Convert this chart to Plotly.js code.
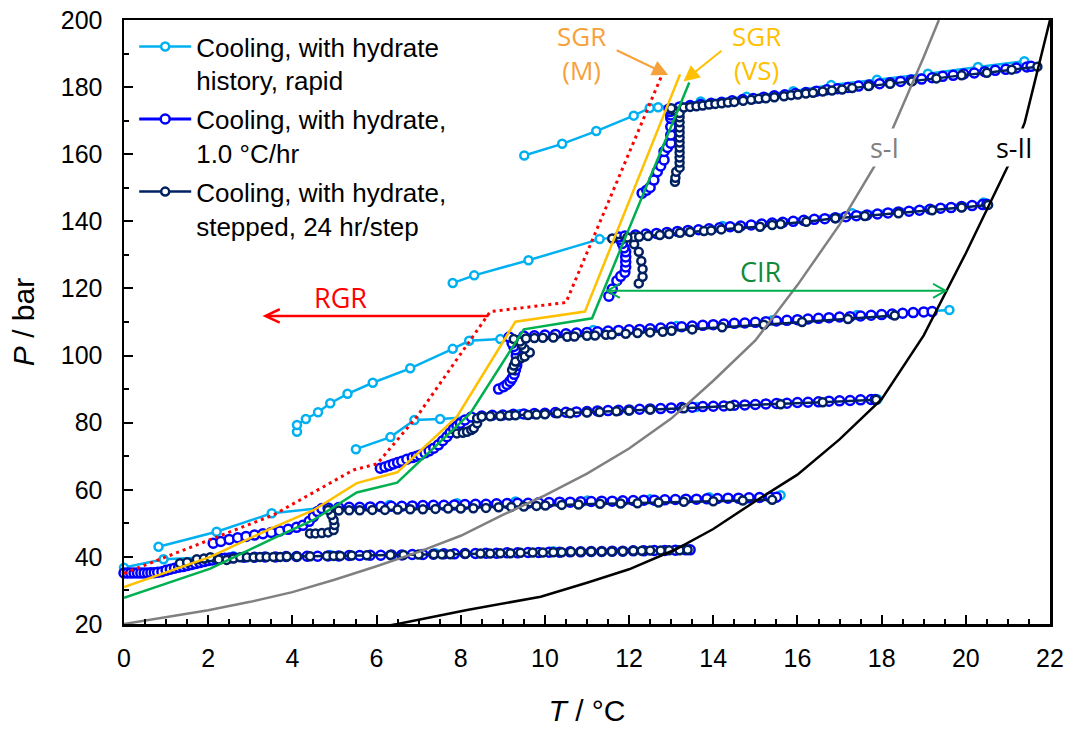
<!DOCTYPE html>
<html>
<head>
<meta charset="utf-8">
<script src="https://cdn.plot.ly/plotly-3.0.1.min.js"></script>
<style>
  html, body { margin: 0; padding: 0; background: #ffffff; }
  #chart { width: 1074px; height: 731px; }
</style>
</head>
<body>
<div id="chart"></div>
<script>
// ---------- Cooling, with hydrate history, rapid (T in °C, P in bar) ----------
const rapidT40  = [0, 0.94, 2.6, 4.9, 7.4, 10.2, 13.3];
const rapidP40  = [36.8, 39.3, 40.2, 40.6, 41.1, 41.7, 42.3];
const rapidT55  = [0.82, 2.20, 3.51, 4.80, 6.31, 7.91, 9.30, 11.01, 12.50, 13.90, 15.60];
const rapidP55  = [43.0, 47.5, 53.0, 54.7, 55.5, 56.0, 56.5, 56.8, 57.2, 57.8, 58.4];
const rapidT80  = [5.51, 6.33, 6.90, 7.51, 9.4, 11.5, 13.6, 15.56, 17.9];
const rapidP80  = [72.1, 75.7, 80.8, 81.1, 82.6, 83.6, 84.7, 85.7, 87.0];
const rapidT105 = [4.11, 4.11, 4.32, 4.61, 4.90, 5.31, 5.91, 6.80, 7.81, 8.20, 8.94, 11.15, 13.13, 15.40, 17.42, 19.61];
const rapidP105 = [77.3, 79.3, 81.1, 83.1, 85.8, 88.6, 91.9, 96.2, 102.0, 104.4, 104.9, 107.6, 108.8, 110.5, 112.1, 113.6];
const rapidT135 = [7.81, 8.32, 9.61, 11.30, 14.22, 17.30, 20.42];
const rapidP135 = [121.6, 123.9, 128.4, 134.7, 138.6, 142.4, 145.6];
const rapidT175 = [9.51, 10.41, 11.22, 12.11, 12.49, 12.69, 13.70, 14.79, 15.90, 16.80, 17.89, 19.10, 20.29, 21.39];
const rapidP175 = [159.6, 163.1, 166.9, 171.5, 173.8, 174.0, 175.7, 177.1, 178.8, 180.6, 182.2, 184.0, 186.0, 187.7];

// ---------- Cooling, with hydrate, 1.0 °C/hr ----------
const slowT40 = [0,0.08,0.16,0.24,0.32,0.4,0.48,0.56,0.64,0.72,0.8,0.9,1.0,1.1,1.2,1.3,1.4,1.5,1.6,1.7,1.8,1.9,2.0,2.1,2.2,2.3,2.4,2.5,2.6,
  2.85,3.1,3.35,3.6,3.85,4.1,4.35,4.6,4.85,5.1,5.35,5.6,5.85,6.1,6.35,6.6,6.85,7.1,7.35,7.6,7.85,8.1,8.35,8.6,8.85,9.1,9.35,9.6,9.85,
  10.1,10.35,10.6,10.85,11.1,11.35,11.6,11.85,12.1,12.35,12.6,12.85,13.1,13.35,13.45];
const slowP40 = [35.2,35.2,35.2,35.2,35.2,35.2,35.2,35.2,35.3,35.3,35.4,35.6,36.0,36.3,36.6,36.9,37.1,37.4,37.7,38.0,38.3,38.6,38.9,39.1,39.3,39.5,39.6,39.7,39.8,
  39.9,39.9,40.0,40.0,40.1,40.1,40.2,40.2,40.3,40.3,40.4,40.4,40.5,40.5,40.6,40.6,40.7,40.7,40.8,40.9,40.9,41.0,41.0,41.1,41.1,41.2,41.2,41.3,41.3,
  41.4,41.4,41.5,41.5,41.6,41.6,41.7,41.7,41.8,41.8,41.9,41.9,42.0,42.1,42.1];
const slowT55 = [2.12,2.3,2.5,2.7,2.9,3.1,3.3,3.5,3.7,3.9,4.1,4.25,4.4,4.5,4.6,4.7,
  4.85,5.1,5.35,5.6,5.85,6.1,6.35,6.6,6.85,7.1,7.35,7.6,7.85,8.1,8.35,8.6,8.85,9.1,9.35,9.6,9.85,10.1,10.35,10.6,10.85,
  11.1,11.35,11.6,11.85,12.1,12.35,12.6,12.85,13.1,13.35,13.6,13.85,14.1,14.35,14.6,14.85,15.1,15.35,15.5];
const slowP55 = [44.1,44.6,45.2,45.7,46.1,46.5,46.9,47.3,47.7,48.2,48.8,49.4,50.6,52.0,53.5,54.4,
  54.6,54.7,54.8,54.8,54.9,55.0,55.1,55.1,55.2,55.3,55.4,55.4,55.5,55.6,55.7,55.7,55.8,55.9,56.0,56.0,56.1,56.2,56.3,56.3,56.4,
  56.5,56.6,56.6,56.7,56.8,56.9,56.9,57.0,57.1,57.2,57.2,57.3,57.4,57.5,57.5,57.6,57.7,57.8,57.8];
const slowT80 = [6.09,6.2,6.3,6.4,6.5,6.6,6.72,6.85,6.95,7.04,7.15,7.25,7.36,7.47,7.57,7.67,7.75,7.83,7.91,7.99,8.1,8.25,
  8.5,8.75,9.0,9.25,9.5,9.75,10.0,10.25,10.5,10.75,11.0,11.25,11.5,11.75,12.0,12.25,12.5,12.75,13.0,13.25,13.5,13.75,
  14.0,14.25,14.5,14.75,15.0,15.25,15.5,15.75,16.0,16.25,16.5,16.75,17.0,17.25,17.5,17.75,17.85];
const slowP80 = [66.4,66.8,67.2,67.7,68.1,68.5,69.1,69.6,70.0,70.4,71.0,71.6,72.4,73.4,74.6,75.8,77.0,78.2,79.0,79.8,80.8,81.7,
  82.0,82.2,82.3,82.5,82.6,82.7,82.8,83.0,83.1,83.2,83.3,83.5,83.6,83.7,83.8,84.0,84.1,84.2,84.4,84.5,84.6,84.8,
  84.9,85.0,85.2,85.3,85.4,85.6,85.7,85.8,86.0,86.1,86.2,86.4,86.5,86.6,86.8,86.9,86.9];
const slowT105 = [8.90,9.02,9.10,9.17,9.22,9.27,9.30,9.33,9.34,9.32,9.30,9.26,9.22,9.15,
  9.5,9.75,10.0,10.25,10.5,10.75,11.0,11.25,11.5,11.75,12.0,12.25,12.5,12.75,13.0,13.25,13.5,13.75,14.0,14.25,14.5,14.75,
  15.0,15.25,15.5,15.75,16.0,16.25,16.5,16.75,17.0,17.25,17.5,17.75,18.0,18.25,18.5,18.75,19.0,19.2];
const slowP105 = [90.0,90.7,91.4,92.3,93.2,94.4,95.7,97.0,98.2,100.0,101.7,102.7,103.7,105.5,
  105.8,105.9,106.1,106.3,106.5,106.7,106.9,107.1,107.3,107.5,107.7,107.8,108.0,108.2,108.4,108.6,108.8,109.0,109.2,109.4,109.6,109.7,
  109.9,110.1,110.3,110.5,110.7,110.9,111.1,111.3,111.5,111.6,111.8,112.0,112.2,112.4,112.6,112.8,113.0,113.1];
const slowT135 = [11.52,11.6,11.71,11.8,11.9,11.92,11.92,11.92,11.92,11.88,11.84,11.8,11.76,
  11.9,12.15,12.4,12.65,12.9,13.15,13.4,13.65,13.9,14.15,14.4,14.65,14.9,15.15,15.4,15.65,15.9,16.15,16.4,16.65,
  16.9,17.15,17.4,17.65,17.9,18.15,18.4,18.65,18.9,19.15,19.4,19.65,19.9,20.15,20.4,20.5];
const slowP135 = [117.7,119.8,122.3,123.6,124.8,126.4,127.9,129.4,130.9,132.1,133.4,134.5,135.3,
  135.6,135.9,136.2,136.4,136.7,137.0,137.3,137.5,137.8,138.1,138.4,138.6,138.9,139.2,139.5,139.7,140.0,140.3,140.6,140.8,
  141.1,141.4,141.7,141.9,142.2,142.5,142.8,143.0,143.3,143.6,143.9,144.1,144.4,144.7,145.0,145.1];
const slowT175 = [12.31,12.42,12.5,12.59,12.67,12.75,12.83,12.83,12.91,12.99,12.99,12.99,12.99,12.99,12.97,12.95,
  13.2,13.45,13.7,13.95,14.2,14.45,14.7,14.95,15.2,15.45,15.7,15.95,16.2,16.45,16.7,16.95,17.2,17.45,17.7,17.95,
  18.2,18.45,18.7,18.95,19.2,19.45,19.7,19.95,20.2,20.45,20.7,20.95,21.2,21.45,21.55];
const slowP175 = [148.4,149.3,150.1,152.3,154.8,156.5,158.3,160.8,162.0,163.3,165.7,168.2,170.7,171.7,172.7,173.5,
  174.1,174.5,174.8,175.2,175.5,175.9,176.3,176.6,177.0,177.4,177.7,178.1,178.4,178.8,179.2,179.5,179.9,180.3,180.6,181.0,
  181.3,181.7,182.1,182.4,182.8,183.2,183.5,183.9,184.2,184.6,185.0,185.3,185.7,186.0,186.2];

// ---------- Cooling, with hydrate, stepped, 24 hr/step ----------
const stepT40 = [1.33,1.5,1.73,1.9,2.05,2.25,2.44,2.6,2.76,2.92,3.08,3.23,3.39,3.55,3.71,3.87,4.11,4.42,4.82,4.98,5.14,5.41,5.77,
  6.33,6.64,7.00,7.36,7.55,7.75,8.11,8.47,8.70,8.94,9.18,9.42,9.71,9.95,10.2,10.4,10.62,10.85,11.1,11.35,11.59,
  11.85,12.1,12.3,12.5,12.75,12.95,13.2,13.39];
const stepP40 = [38.1,38.4,39.3,39.5,39.9,39.2,39.1,39.5,39.9,39.9,39.9,40.0,40.0,40.0,40.0,40.1,40.1,40.2,40.3,40.3,40.3,40.4,40.5,
  40.6,40.6,40.7,40.8,40.8,40.8,40.9,41.0,41.0,41.1,41.1,41.2,41.3,41.3,41.4,41.4,41.5,41.5,41.6,41.6,41.6,
  41.7,41.8,41.8,41.9,41.9,42.0,42.0,42.1];
const stepT55 = [4.42,4.55,4.7,4.85,4.98,5.0,4.98,4.93,4.85,
  5.1,5.35,5.6,5.9,6.2,6.5,6.8,7.1,7.4,7.7,8.0,8.3,8.6,8.9,9.2,9.5,9.8,
  10.01,10.4,10.8,11.31,11.8,12.2,12.7,13.3,14.0,14.7,15.40];
const stepP55 = [47.0,47.0,47.1,47.3,48.0,49.5,51.0,52.5,54.0,
  53.8,53.9,53.9,54.0,54.0,54.1,54.2,54.2,54.3,54.4,54.4,54.5,54.6,54.8,54.9,55.0,55.2,
  55.3,55.5,55.6,55.8,55.9,56.0,56.2,56.4,56.6,56.8,57.0];
const stepT80 = [7.91,8.05,8.15,8.25,8.31,8.39,8.39,8.5,
  8.7,8.94,9.15,9.3,9.6,9.8,10.0,10.3,10.6,11.0,11.3,11.7,12.0,12.5,13.3,14.4,15.6,16.6,17.87];
const stepP80 = [76.8,77.0,77.3,77.8,78.3,79.8,81.3,81.8,
  81.9,82.0,82.1,82.2,82.3,82.4,82.5,82.8,82.8,83.0,83.2,83.4,83.6,83.9,84.3,85.0,85.5,86.1,86.8];
const stepT105 = [9.22,9.26,9.30,9.45,9.52,9.64,9.52,9.45,9.41,9.26,
  9.55,9.75,9.95,10.2,10.53,10.7,11.0,11.19,11.45,11.59,11.92,12.2,12.5,12.8,13.01,13.5,14.21,15.2,16.11,17.2,18.31];
const stepP105 = [95.7,97.0,98.2,99.3,99.7,100.9,102.0,103.2,104.2,104.9,
  105.1,105.2,105.3,105.4,105.6,105.7,105.9,106.0,106.2,106.3,106.5,106.7,106.9,107.1,107.4,107.8,108.4,109.2,110.0,110.9,111.9];
const stepT135 = [12.23,12.32,12.32,12.29,12.23,12.12,12.11,
  11.6,11.96,12.24,12.45,12.73,12.95,13.21,13.45,13.78,13.95,14.19,14.6,15.11,15.40,15.60,16.21,16.90,17.6,18.40,19.2,19.9,20.53];
const stepP135 = [121.5,123.5,125.8,128.2,130.9,133.2,135.3,
  134.9,135.2,135.4,135.6,135.9,136.2,136.6,136.8,137.1,137.3,137.6,138.0,138.4,138.9,139.2,139.9,140.9,141.6,142.4,143.3,144.1,144.9];
const stepT175 = [13.09,13.1,13.12,13.2,13.2,13.2,13.2,13.2,13.2,13.2,13.2,13.2,13.2,13.2,13.2,13.05,13.0,
  13.3,13.45,13.6,13.75,13.9,14.05,14.2,14.35,14.5,14.71,14.9,15.08,15.25,15.45,15.68,15.85,16.01,16.2,16.37,16.6,
  16.82,17.06,17.3,17.69,18.2,18.72,19.3,19.9,20.5,21.09,21.70];
const stepP175 = [151.8,153.0,154.8,156.0,157.5,159.0,160.5,162.0,163.5,165.0,166.5,168.0,169.5,171.0,172.3,173.2,173.7,
  173.9,174.1,174.3,174.5,174.8,175.0,175.2,175.4,175.6,175.9,176.2,176.5,176.7,177.0,177.3,177.6,177.8,178.1,178.3,178.7,
  179.0,179.3,179.7,180.3,181.0,181.7,182.6,183.5,184.3,185.2,186.1];

// ---------- Hydrate equilibrium curves ----------
const sIT  = [0, 1, 2, 3, 4, 5, 6, 7, 8, 9, 10, 11, 12, 13, 14, 15, 16, 17, 18, 19, 19.36];
const sIP  = [20, 22, 24.1, 26.6, 29.5, 33.2, 37.2, 41.5, 46.3, 52.5, 58.3, 64.8, 72.3, 81.2, 92.5, 104.5, 121, 139, 160, 189, 200];
const sIIT = [6.0, 6.5, 8.15, 9.9, 11.0, 12.0, 13.1, 14.0, 15.0, 16.0, 17.0, 18.0, 19.0, 20.0, 21.0, 21.4, 22.0];
const sIIP = [18.9, 20.0, 24.2, 28.1, 32.3, 36.3, 42.2, 48.3, 56.6, 64.5, 75.0, 87.0, 106.0, 130.5, 156.5, 169.5, 200];

// ---------- Growth-region boundary lines ----------
const rgrT = [0, 3.55, 5.45, 6.01, 6.96, 8.70, 10.5, 12.77];
const rgrP = [35.1, 52.5, 65.9, 67.7, 81.8, 113.1, 115.8, 183.3];
const vsT  = [0, 2.05, 3.51, 4.50, 5.53, 6.49, 7.91, 9.30, 10.95, 13.21];
const vsP  = [31.0, 40.0, 48.6, 53.9, 62.0, 65.2, 81.8, 110.1, 113.1, 183.8];
const cirT = [0, 2.05, 3.51, 4.50, 5.53, 6.49, 8.23, 9.50, 11.12, 13.43];
const cirP = [27.8, 36.5, 45.3, 51.0, 59.2, 62.1, 82.8, 107.8, 111.1, 181.4];

// ---------- Legend labels ----------
const seriesNames = [
  'Cooling, with hydrate<br>history, rapid',
  'Cooling, with hydrate,<br>1.0 °C/hr',
  'Cooling, with hydrate,<br>stepped, 24 hr/step'
];

const C_RAPID = '#00B0F0';
const C_SLOW  = '#0000FF';
const C_STEP  = '#002060';

function run(T, P, color, size, lineW, idx, first) {
  return {
    x: T, y: P, type: 'scatter', mode: 'lines+markers',
    name: seriesNames[idx], legendgroup: 'g' + idx, showlegend: first,
    line: { color: color, width: lineW },
    marker: { symbol: 'circle', size: size, color: '#ffffff', line: { color: color, width: 2.5 } },
    cliponaxis: false, hoverinfo: 'skip'
  };
}
function curve(T, P, color, width, dash) {
  return {
    x: T, y: P, type: 'scatter', mode: 'lines', showlegend: false,
    line: { color: color, width: width, dash: dash || 'solid' }, hoverinfo: 'skip'
  };
}

const traces = [
  run(rapidT40, rapidP40, C_RAPID, 8, 2.5, 0, true),
  run(rapidT55, rapidP55, C_RAPID, 8, 2.5, 0, false),
  run(rapidT80, rapidP80, C_RAPID, 8, 2.5, 0, false),
  run(rapidT105, rapidP105, C_RAPID, 8, 2.5, 0, false),
  run(rapidT135, rapidP135, C_RAPID, 8, 2.5, 0, false),
  run(rapidT175, rapidP175, C_RAPID, 8, 2.5, 0, false),
  run(slowT40, slowP40, C_SLOW, 9, 3, 1, true),
  run(slowT55, slowP55, C_SLOW, 9, 3, 1, false),
  run(slowT80, slowP80, C_SLOW, 9, 3, 1, false),
  run(slowT105, slowP105, C_SLOW, 9, 3, 1, false),
  run(slowT135, slowP135, C_SLOW, 9, 3, 1, false),
  run(slowT175, slowP175, C_SLOW, 9, 3, 1, false),
  run(stepT40, stepP40, C_STEP, 8, 2.5, 2, true),
  run(stepT55, stepP55, C_STEP, 8, 2.5, 2, false),
  run(stepT80, stepP80, C_STEP, 8, 2.5, 2, false),
  run(stepT105, stepP105, C_STEP, 8, 2.5, 2, false),
  run(stepT135, stepP135, C_STEP, 8, 2.5, 2, false),
  run(stepT175, stepP175, C_STEP, 8, 2.5, 2, false),
  curve(sIT, sIP, '#808080', 2.5),
  curve(sIIT, sIIP, '#000000', 2.5),
  curve(cirT, cirP, '#00B050', 2.5),
  curve(vsT, vsP, '#FFC000', 2.5),
  curve(rgrT, rgrP, '#FF0000', 3, '3px,4px')
];

const AX_FAMILY = 'Arial, "Liberation Sans", sans-serif';
const TICK_FONT = { family: AX_FAMILY, size: 25, color: '#000000' };
const NOTE_FONT = 'Open Sans, sans-serif';

function label(text, x, y, color, size, extra) {
  return Object.assign({
    text: text, x: x, y: y, xref: 'x', yref: 'y', showarrow: false,
    xanchor: 'center', yanchor: 'middle',
    font: { family: NOTE_FONT, size: size, color: color }
  }, extra || {});
}
function pointer(x, y, ax, ay, color) {
  return {
    text: '', x: x, y: y, ax: ax, ay: ay, xref: 'x', yref: 'y', axref: 'x', ayref: 'y',
    showarrow: true, arrowhead: 2, arrowsize: 1.6, arrowwidth: 2, arrowcolor: color, standoff: 0
  };
}
function segment(x0, y0, x1, y1, color, w) {
  return { type: 'line', xref: 'x', yref: 'y', x0: x0, y0: y0, x1: x1, y1: y1, line: { color: color, width: w } };
}
function chevron(path, color, w) {
  return { type: 'path', xref: 'x', yref: 'y', path: path, line: { color: color, width: w } };
}

const layout = {
  width: 1074, height: 731,
  margin: { l: 124, r: 24, t: 20, b: 107 },
  paper_bgcolor: '#ffffff', plot_bgcolor: '#ffffff',
  showlegend: true,
  legend: {
    x: 0.011, y: 0.995, xanchor: 'left', yanchor: 'top',
    font: { family: AX_FAMILY, size: 26, color: '#000000' }, bgcolor: 'rgba(0,0,0,0)', borderwidth: 0,
    traceorder: 'grouped', tracegroupgap: 2, valign: 'top', itemwidth: 52
  },
  xaxis: {
    range: [0, 22], tick0: 0, dtick: 2, ticks: 'inside', ticklen: 9, tickwidth: 2, tickcolor: '#000',
    minor: { dtick: 0.5, ticks: 'inside', ticklen: 5, tickwidth: 2, tickcolor: '#000' },
    showline: true, linewidth: 2.5, linecolor: '#000', mirror: true,
    showgrid: false, zeroline: false, tickfont: TICK_FONT, ticklabelstandoff: 10,
    title: { text: '<i>T</i> / °C', font: { family: AX_FAMILY, size: 30, color: '#000' }, standoff: 30 }
  },
  yaxis: {
    range: [20, 200], tick0: 20, dtick: 20, ticks: 'inside', ticklen: 9, tickwidth: 2, tickcolor: '#000',
    minor: { dtick: 10, ticks: 'inside', ticklen: 5, tickwidth: 2, tickcolor: '#000' },
    showline: true, linewidth: 2.5, linecolor: '#000', mirror: true,
    showgrid: false, zeroline: false, tickfont: TICK_FONT, ticklabelstandoff: 14,
    title: { text: '<i>P</i> / bar', font: { family: AX_FAMILY, size: 30, color: '#000' }, standoff: 18 }
  },
  shapes: [
    // RGR arrow pointing to lower temperature
    segment(3.38, 111.8, 8.66, 111.8, '#FF0000', 2.5),
    chevron('M 3.70,113.8 L 3.36,111.8 L 3.70,109.8', '#FF0000', 2.5),
    // CIR double-headed arrow
    segment(11.49, 119.3, 19.51, 119.3, '#00B050', 2),
    chevron('M 11.78,121.4 L 11.48,119.3 L 11.78,117.2', '#00B050', 2),
    chevron('M 19.22,121.4 L 19.52,119.3 L 19.22,117.2', '#00B050', 2)
  ],
  annotations: [
    label('SGR<br>(M)', 10.87, 190.1, '#F7A13B', 26),
    label('SGR<br>(VS)', 15.02, 190.1, '#FFC000', 26),
    pointer(12.93, 183.6, 11.67, 191.2, '#F7A13B'),
    pointer(13.29, 181.7, 14.23, 191.2, '#FFC000'),
    label('s-I', 18.07, 161.9, '#808080', 27, { bgcolor: '#ffffff', borderpad: 0 }),
    label('s-II', 21.15, 161.9, '#000000', 27, { bgcolor: '#ffffff', borderpad: 0 }),
    label('CIR', 15.13, 125.1, '#0F8A3A', 27),
    label('RGR', 5.14, 117.4, '#FF0000', 27)
  ]
};

Plotly.newPlot('chart', traces, layout, { displayModeBar: false, staticPlot: true });
</script>
</body>
</html>
